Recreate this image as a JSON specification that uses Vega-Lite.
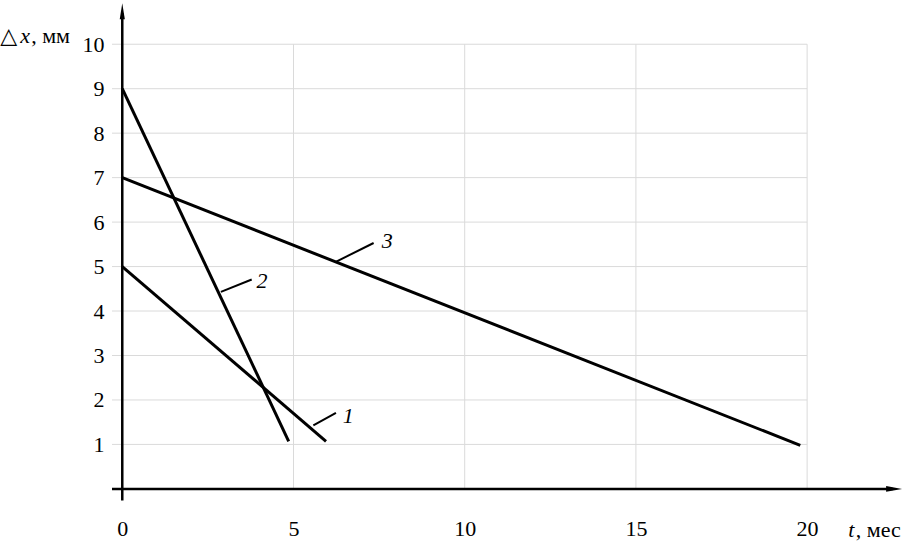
{
  "$schema": "https://vega.github.io/schema/vega-lite/v6.json",
  "width": 791,
  "height": 498,
  "autosize": {"type": "none"},
  "padding": {"left": 112, "top": 2, "right": 13, "bottom": 41},
  "background": "white",
  "config": {
    "view": {"stroke": null},
    "axis": {"domain": false, "ticks": false, "grid": false, "labelFont": "Times New Roman, Liberation Serif, DejaVu Serif, serif", "labelFontSize": 22, "labelColor": "#000", "title": null},
    "axisX": {"labelPadding": 18},
    "axisY": {"labelPadding": 8}
  },
  "datasets": {
    "lines": [
      {"series": "1", "t": 0, "v": 5},
      {"series": "1", "t": 5.95, "v": 1.07},
      {"series": "2", "t": 0, "v": 9},
      {"series": "2", "t": 4.86, "v": 1.07},
      {"series": "3", "t": 0, "v": 7},
      {"series": "3", "t": 19.8, "v": 0.98}
    ],
    "hgrid": [{"v": 1}, {"v": 2}, {"v": 3}, {"v": 4}, {"v": 5}, {"v": 6}, {"v": 7}, {"v": 8}, {"v": 9}, {"v": 10}],
    "vgrid": [{"t": 5}, {"t": 10}, {"t": 15}, {"t": 20}],
    "leaders": [
      {"series": "1", "t": 5.58, "v": 1.43, "t2": 6.24, "v2": 1.71},
      {"series": "2", "t": 2.88, "v": 4.43, "t2": 3.78, "v2": 4.71},
      {"series": "3", "t": 6.22, "v": 5.1, "t2": 7.34, "v2": 5.53}
    ],
    "labels": [
      {"label": "1", "t": 6.6, "v": 1.63},
      {"label": "2", "t": 4.08, "v": 4.68},
      {"label": "3", "t": 7.74, "v": 5.57}
    ]
  },
  "layer": [
    {
      "data": {"name": "hgrid"},
      "mark": {"type": "rule", "color": "#dadada", "strokeWidth": 1},
      "encoding": {
        "x": {"datum": -0.3, "type": "quantitative", "scale": {"domain": [-0.3, 22.8], "nice": false, "zero": false}, "axis": {"values": [0, 5, 10, 15, 20]}},
        "x2": {"datum": 20},
        "y": {"field": "v", "type": "quantitative", "scale": {"domain": [-0.25, 10.95], "nice": false, "zero": false}, "axis": {"values": [1, 2, 3, 4, 5, 6, 7, 8, 9, 10]}}
      }
    },
    {
      "data": {"name": "vgrid"},
      "mark": {"type": "rule", "color": "#dadada", "strokeWidth": 1},
      "encoding": {
        "x": {"field": "t", "type": "quantitative", "scale": {"domain": [-0.3, 22.8], "nice": false, "zero": false}},
        "y": {"datum": 0, "type": "quantitative", "scale": {"domain": [-0.25, 10.95], "nice": false, "zero": false}},
        "y2": {"datum": 10}
      }
    },
    {
      "data": {"values": [{}]},
      "mark": {"type": "rule", "color": "#000", "strokeWidth": 2.5},
      "encoding": {
        "x": {"datum": -0.3, "type": "quantitative", "scale": {"domain": [-0.3, 22.8], "nice": false, "zero": false}},
        "x2": {"datum": 22.5},
        "y": {"datum": 0, "type": "quantitative", "scale": {"domain": [-0.25, 10.95], "nice": false, "zero": false}}
      }
    },
    {
      "data": {"values": [{}]},
      "mark": {"type": "rule", "color": "#000", "strokeWidth": 2.5},
      "encoding": {
        "x": {"datum": 0, "type": "quantitative", "scale": {"domain": [-0.3, 22.8], "nice": false, "zero": false}},
        "y": {"datum": -0.26, "type": "quantitative", "scale": {"domain": [-0.25, 10.95], "nice": false, "zero": false}},
        "y2": {"datum": 10.7}
      }
    },
    {
      "data": {"values": [{}]},
      "mark": {"type": "point", "filled": true, "color": "#000", "opacity": 1, "size": 256, "shape": "M0,-1L0.32,1L-0.32,1Z"},
      "encoding": {
        "x": {"datum": 0, "type": "quantitative", "scale": {"domain": [-0.3, 22.8], "nice": false, "zero": false}},
        "y": {"datum": 10.74, "type": "quantitative", "scale": {"domain": [-0.25, 10.95], "nice": false, "zero": false}}
      }
    },
    {
      "data": {"values": [{}]},
      "mark": {"type": "point", "filled": true, "color": "#000", "opacity": 1, "size": 256, "shape": "M1,0L-1,-0.35L-1,0.35Z"},
      "encoding": {
        "x": {"datum": 22.54, "type": "quantitative", "scale": {"domain": [-0.3, 22.8], "nice": false, "zero": false}},
        "y": {"datum": 0, "type": "quantitative", "scale": {"domain": [-0.25, 10.95], "nice": false, "zero": false}}
      }
    },
    {
      "data": {"name": "lines"},
      "mark": {"type": "line", "color": "#000", "strokeWidth": 3},
      "encoding": {
        "x": {"field": "t", "type": "quantitative", "scale": {"domain": [-0.3, 22.8], "nice": false, "zero": false}},
        "y": {"field": "v", "type": "quantitative", "scale": {"domain": [-0.25, 10.95], "nice": false, "zero": false}},
        "detail": {"field": "series"}
      }
    },
    {
      "data": {"name": "leaders"},
      "mark": {"type": "rule", "color": "#000", "strokeWidth": 2},
      "encoding": {
        "x": {"field": "t", "type": "quantitative", "scale": {"domain": [-0.3, 22.8], "nice": false, "zero": false}},
        "x2": {"field": "t2"},
        "y": {"field": "v", "type": "quantitative", "scale": {"domain": [-0.25, 10.95], "nice": false, "zero": false}},
        "y2": {"field": "v2"}
      }
    },
    {
      "data": {"name": "labels"},
      "mark": {"type": "text", "font": "Times New Roman, Liberation Serif, DejaVu Serif, serif", "fontStyle": "italic", "fontSize": 22, "color": "#000", "align": "center", "baseline": "middle"},
      "encoding": {
        "x": {"field": "t", "type": "quantitative", "scale": {"domain": [-0.3, 22.8], "nice": false, "zero": false}},
        "y": {"field": "v", "type": "quantitative", "scale": {"domain": [-0.25, 10.95], "nice": false, "zero": false}},
        "text": {"field": "label"}
      }
    },
    {
      "data": {"values": [{}]},
      "mark": {"type": "text", "font": "DejaVu Sans", "fontSize": 22, "color": "#000", "align": "left", "baseline": "alphabetic", "text": "△"},
      "encoding": {
        "x": {"datum": -3.56, "type": "quantitative", "scale": {"domain": [-0.3, 22.8], "nice": false, "zero": false}},
        "y": {"datum": 10.02, "type": "quantitative", "scale": {"domain": [-0.25, 10.95], "nice": false, "zero": false}}
      }
    },
    {
      "data": {"values": [{}]},
      "mark": {"type": "text", "font": "Times New Roman, Liberation Serif, DejaVu Serif, serif", "fontStyle": "italic", "fontSize": 22, "color": "#000", "align": "left", "baseline": "alphabetic", "text": "x"},
      "encoding": {
        "x": {"datum": -2.98, "type": "quantitative", "scale": {"domain": [-0.3, 22.8], "nice": false, "zero": false}},
        "y": {"datum": 10.02, "type": "quantitative", "scale": {"domain": [-0.25, 10.95], "nice": false, "zero": false}}
      }
    },
    {
      "data": {"values": [{}]},
      "mark": {"type": "text", "font": "Times New Roman, Liberation Serif, DejaVu Serif, serif", "fontSize": 22, "color": "#000", "align": "left", "baseline": "alphabetic", "text": ", мм"},
      "encoding": {
        "x": {"datum": -2.66, "type": "quantitative", "scale": {"domain": [-0.3, 22.8], "nice": false, "zero": false}},
        "y": {"datum": 10.02, "type": "quantitative", "scale": {"domain": [-0.25, 10.95], "nice": false, "zero": false}}
      }
    },
    {
      "data": {"values": [{}]},
      "mark": {"type": "text", "font": "Times New Roman, Liberation Serif, DejaVu Serif, serif", "fontStyle": "italic", "fontSize": 22, "color": "#000", "align": "left", "baseline": "alphabetic", "text": "t"},
      "encoding": {
        "x": {"datum": 21.2, "type": "quantitative", "scale": {"domain": [-0.3, 22.8], "nice": false, "zero": false}},
        "y": {"datum": -1.09, "type": "quantitative", "scale": {"domain": [-0.25, 10.95], "nice": false, "zero": false}}
      }
    },
    {
      "data": {"values": [{}]},
      "mark": {"type": "text", "font": "Times New Roman, Liberation Serif, DejaVu Serif, serif", "fontSize": 22, "color": "#000", "align": "left", "baseline": "alphabetic", "text": ", мес"},
      "encoding": {
        "x": {"datum": 21.42, "type": "quantitative", "scale": {"domain": [-0.3, 22.8], "nice": false, "zero": false}},
        "y": {"datum": -1.09, "type": "quantitative", "scale": {"domain": [-0.25, 10.95], "nice": false, "zero": false}}
      }
    }
  ]
}
